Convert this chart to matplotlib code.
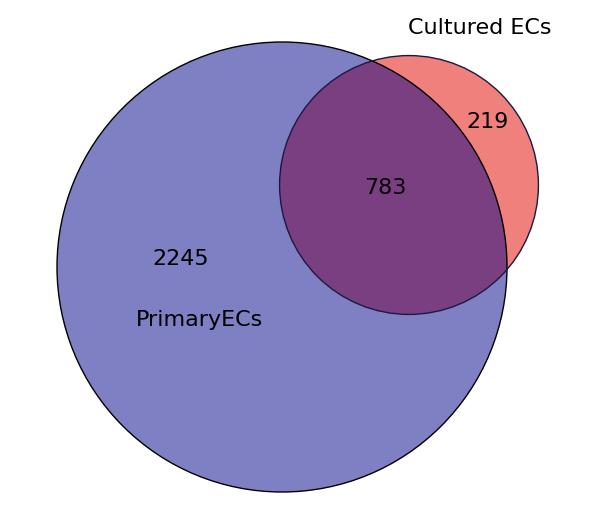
import numpy as np
import matplotlib.pyplot as plt
from matplotlib.patches import Circle

set_names = ['PrimaryECs', 'Cultured ECs']
only_primary = 2245
both = 783
only_cultured = 219

total_primary = only_primary + both
total_cultured = only_cultured + both

# radius scale: pixels per sqrt(count)
scale = 225 / np.sqrt(total_primary)
r1 = scale * np.sqrt(total_primary)
r2 = scale * np.sqrt(total_cultured)
c1 = (282, 267)
c2 = (409, 185)

fig = plt.figure(figsize=(6.16, 5.22), dpi=100)
ax = fig.add_axes([0, 0, 1, 1])
ax.set_xlim(0, 616)
ax.set_ylim(522, 0)
ax.set_aspect('equal')
ax.axis('off')

big = Circle(c1, r1, facecolor='#7f7fc4', edgecolor='none')
small = Circle(c2, r2, facecolor='#f0807c', edgecolor='none')
ax.add_patch(big)
ax.add_patch(small)
overlap = Circle(c2, r2, facecolor='#7a3f80', edgecolor='none')
ax.add_patch(overlap)
overlap.set_clip_path(big)
ax.add_patch(Circle(c1, r1, facecolor='none', edgecolor='black', lw=1))
ax.add_patch(Circle(c2, r2, facecolor='none', edgecolor='#1a1a40', lw=1))

fs = 16
ax.text(181, 259, str(only_primary), fontsize=fs, ha='center', va='center')
ax.text(200, 320, set_names[0], fontsize=fs, ha='center', va='center')
ax.text(385, 188, str(both), fontsize=fs, ha='center', va='center')
ax.text(488, 122, str(only_cultured), fontsize=fs, ha='center', va='center')
ax.text(480, 28, set_names[1], fontsize=fs, ha='center', va='center')

fig.savefig('out.png', dpi=100)
